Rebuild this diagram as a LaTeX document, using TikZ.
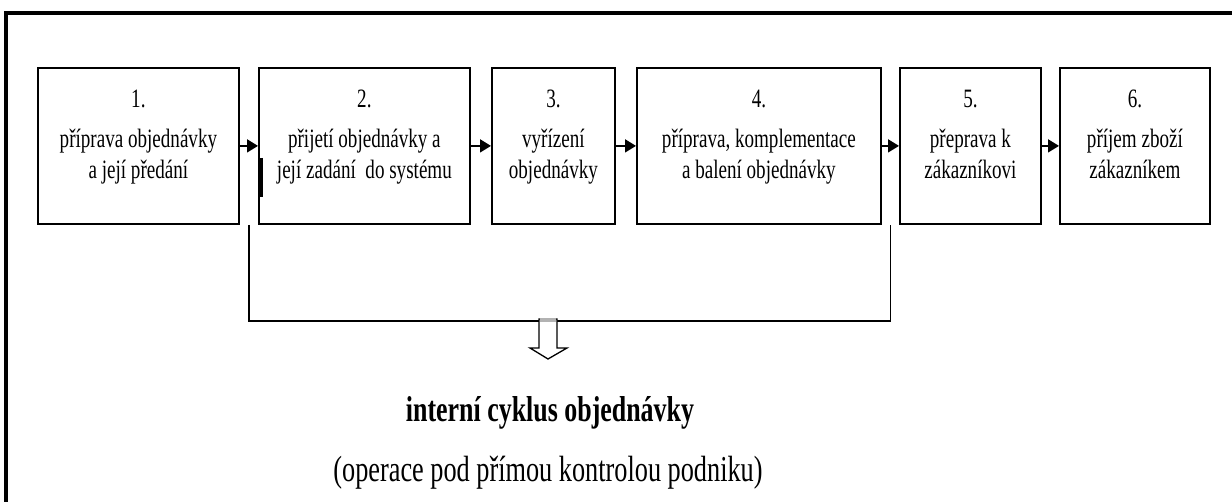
\documentclass[tikz,border=0pt]{standalone}
\usepackage{fontspec}
\setmainfont{Liberation Serif}
\usepackage{graphicx}
\usetikzlibrary{arrows.meta,calc}
\newcommand\nrw[1]{\scalebox{0.72}[1]{#1}}
\newcommand\boxlines[3]{\nrw{\begin{tabular}[t]{@{}c@{}}#1\\[9pt]#2\\#3\end{tabular}}}
\begin{document}
\begin{tikzpicture}[x=1pt,y=-1pt,
  box/.style={draw, line width=1.8pt, minimum width=#1, minimum height=156pt, inner sep=0pt, anchor=north west},
  btxt/.style={inner sep=0pt, anchor=base, font=\fontsize{26.5}{31}\selectfont},
  arr/.style={line width=1.8pt, -{Triangle[length=11pt,width=13pt]}},
  bracket/.style={line width=1.8pt},
  frame/.style={line width=3.5pt},
  hollow/.style={line width=1.3pt, fill=white, line join=miter}]
\useasboundingbox (0,0) rectangle (1232,502);
\fill[white] (0,0) rectangle (1232,502);
% outer frame
\draw[frame] (6,505) -- (6,13) -- (1235,13);
% boxes
\node[box=201] (b1) at (37,67) {};
\node[box=211] (b2) at (258,67) {};
\node[box=123] (b3) at (491,67) {};
\node[box=244] (b4) at (636,67) {};
\node[box=141] (b5) at (899,67) {};
\node[box=150] (b6) at (1059,67) {};
% box texts
\node[btxt] (t1) at (b1.north |- 0,108) {\boxlines{1.}{příprava objednávky}{a její předání}};
\node[btxt] (t2) at (b2.north |- 0,108) {\boxlines{2.}{přijetí objednávky a}{její zadání\ \ do systému}};
\node[btxt] (t3) at (b3.north |- 0,108) {\boxlines{3.}{vyřízení}{objednávky}};
\node[btxt] (t4) at (b4.north |- 0,108) {\boxlines{4.}{příprava, komplementace}{a balení objednávky}};
\node[btxt] (t5) at (b5.north |- 0,108) {\boxlines{5.}{přeprava k}{zákazníkovi}};
\node[btxt] (t6) at (b6.north |- 0,108) {\boxlines{6.}{příjem zboží}{zákazníkem}};
% arrows between boxes
\draw[arr] (b1) -- (b2);
\draw[arr] (b2) -- (b3);
\draw[arr] (b3) -- (b4);
\draw[arr] (b4) -- (b5);
\draw[arr] (b5) -- (b6);
% thick mark on box 2
\draw[line width=4pt] ($(b2.north west)+(3,91)$) -- ($(b2.north west)+(3,130)$);
% bracket
\coordinate (bl) at ($(b1.south east)!0.5!(b2.south west)$);
\coordinate (br) at ($(b4.south east)!0.5!(b5.south west)$);
\draw[bracket] (bl) -- (bl |- 0,321) -- (br |- 0,321) -- (br);
% hollow arrow
\coordinate (ha) at (548,321);
\draw[hollow] ($(ha)+(-9,-2)$) -- ($(ha)+(-9,27)$) -- ($(ha)+(-18,27)$) -- ($(ha)+(0,38)$) -- ($(ha)+(19,27)$) -- ($(ha)+(9,27)$) -- ($(ha)+(9,-2)$) -- cycle;
\fill[gray!60] ($(ha)+(-8,-3)$) rectangle ($(ha)+(8,1)$);
% bottom texts
\node[inner sep=0pt, anchor=base, font=\bfseries\fontsize{36}{40}\selectfont] (int) at (550,422) {\nrw{interní cyklus objednávky}};
\node[inner sep=0pt, anchor=base, font=\fontsize{36.5}{40}\selectfont] (op) at (548,482) {\nrw{(operace pod přímou kontrolou podniku)}};
\end{tikzpicture}
\end{document}
